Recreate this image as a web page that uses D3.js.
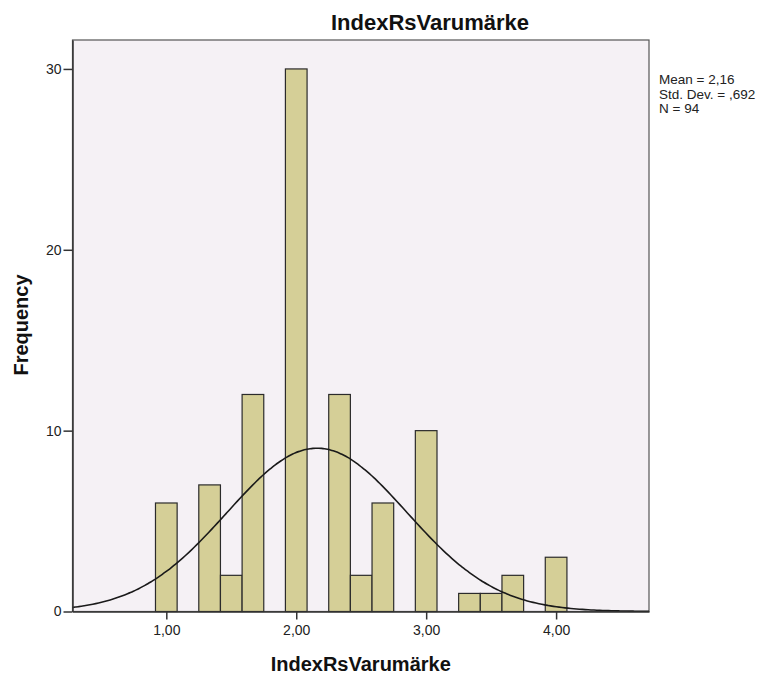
<!DOCTYPE html>
<html>
<head>
<meta charset="utf-8">
<script src="https://cdn.jsdelivr.net/npm/d3@7"></script>
<style>
  body { margin: 0; background: #fff; }
  text { font-family: Arial, "Liberation Sans", sans-serif; }
</style>
</head>
<body>
<div id="chart"></div>
<script>
// bin centres (width 1/6) and counts
const binCenters = [1.0, 1.3333, 1.5, 1.6667, 2.0, 2.3333, 2.5, 2.6667, 3.0, 3.3333, 3.5, 3.6667, 4.0];
const counts     = [6,   7,      2,   12,     30,  12,     2,   6,      10,  1,      1,   2,      3];
const binWidth = 1 / 6;

const xTicks = [1, 2, 3, 4];
const yTicks = [0, 10, 20, 30];

const stats = ["Mean = 2,16", "Std. Dev. = ,692", "N = 94"];
const mean = 2.16, sd = 0.692, n = 94;

const width = 784, height = 679;
const plot = { left: 72.5, right: 649, top: 40, bottom: 611.5 };

const svg = d3.select("#chart")
  .append("svg")
  .attr("width", width)
  .attr("height", height);

const x = d3.scaleLinear()
  .domain([0.278, 4.715])
  .range([plot.left, plot.right]);

const y = d3.scaleLinear()
  .domain([0, 31.6])
  .range([plot.bottom, plot.top]);

// plot background
svg.append("rect")
  .attr("x", plot.left)
  .attr("y", plot.top)
  .attr("width", plot.right - plot.left)
  .attr("height", plot.bottom - plot.top)
  .attr("fill", "#f5f1f5")
  .attr("stroke", "#555")
  .attr("stroke-width", 1.2);

// bars
const bins = binCenters.map((c, i) => ({ c: c, n: counts[i] }));
svg.append("g")
  .selectAll("rect")
  .data(bins)
  .enter()
  .append("rect")
  .attr("x", d => x(d.c - binWidth / 2))
  .attr("y", d => y(d.n))
  .attr("width", d => x(d.c + binWidth / 2) - x(d.c - binWidth / 2))
  .attr("height", d => y(0) - y(d.n))
  .attr("fill", "#d5cf97")
  .attr("stroke", "#2b2b2b")
  .attr("stroke-width", 1.2);

// fitted normal curve, scaled to counts
const pdf = v => n * binWidth * Math.exp(-0.5 * ((v - mean) / sd) ** 2) / (sd * Math.sqrt(2 * Math.PI));
const xs = d3.range(200).map(i => x.domain()[0] + i * (x.domain()[1] - x.domain()[0]) / 199);
svg.append("path")
  .datum(xs)
  .attr("fill", "none")
  .attr("stroke", "#1a1a1a")
  .attr("stroke-width", 1.6)
  .attr("d", d3.line().x(d => x(d)).y(d => y(pdf(d))).curve(d3.curveBasis));

// axes
const xAxis = svg.append("g")
  .attr("transform", `translate(0,${plot.bottom})`)
  .call(d3.axisBottom(x).tickValues(xTicks).tickSize(8).tickSizeOuter(0).tickPadding(6)
    .tickFormat(d => d3.format(".2f")(d).replace(".", ",")));

const yAxis = svg.append("g")
  .attr("transform", `translate(${plot.left},0)`)
  .call(d3.axisLeft(y).tickValues(yTicks).tickSize(9).tickSizeOuter(0).tickPadding(2));

[xAxis, yAxis].forEach(g => {
  g.select(".domain").attr("stroke", "#333").attr("stroke-width", 1.5);
  g.selectAll(".tick line").attr("stroke", "#333").attr("stroke-width", 1.5);
  g.selectAll(".tick text")
    .attr("fill", "#222")
    .style("font-size", "14px")
    .style("font-family", "Arial, 'Liberation Sans', sans-serif");
});

// titles
svg.append("text")
  .attr("x", 430)
  .attr("y", 30)
  .attr("text-anchor", "middle")
  .style("font-size", "22px")
  .style("font-weight", "bold")
  .attr("fill", "#111")
  .text("IndexRsVarumärke");

svg.append("text")
  .attr("x", (plot.left + plot.right) / 2)
  .attr("y", 671)
  .attr("text-anchor", "middle")
  .style("font-size", "20px")
  .style("font-weight", "bold")
  .attr("fill", "#111")
  .text("IndexRsVarumärke");

svg.append("text")
  .attr("transform", "translate(28,325) rotate(-90)")
  .attr("text-anchor", "middle")
  .style("font-size", "20px")
  .style("font-weight", "bold")
  .attr("fill", "#111")
  .text("Frequency");

// stats box
svg.append("g")
  .selectAll("text")
  .data(stats)
  .enter()
  .append("text")
  .attr("x", 659)
  .attr("y", (d, i) => 84 + i * 14.5)
  .style("font-size", "13.5px")
  .attr("fill", "#222")
  .text(d => d);
</script>
</body>
</html>
